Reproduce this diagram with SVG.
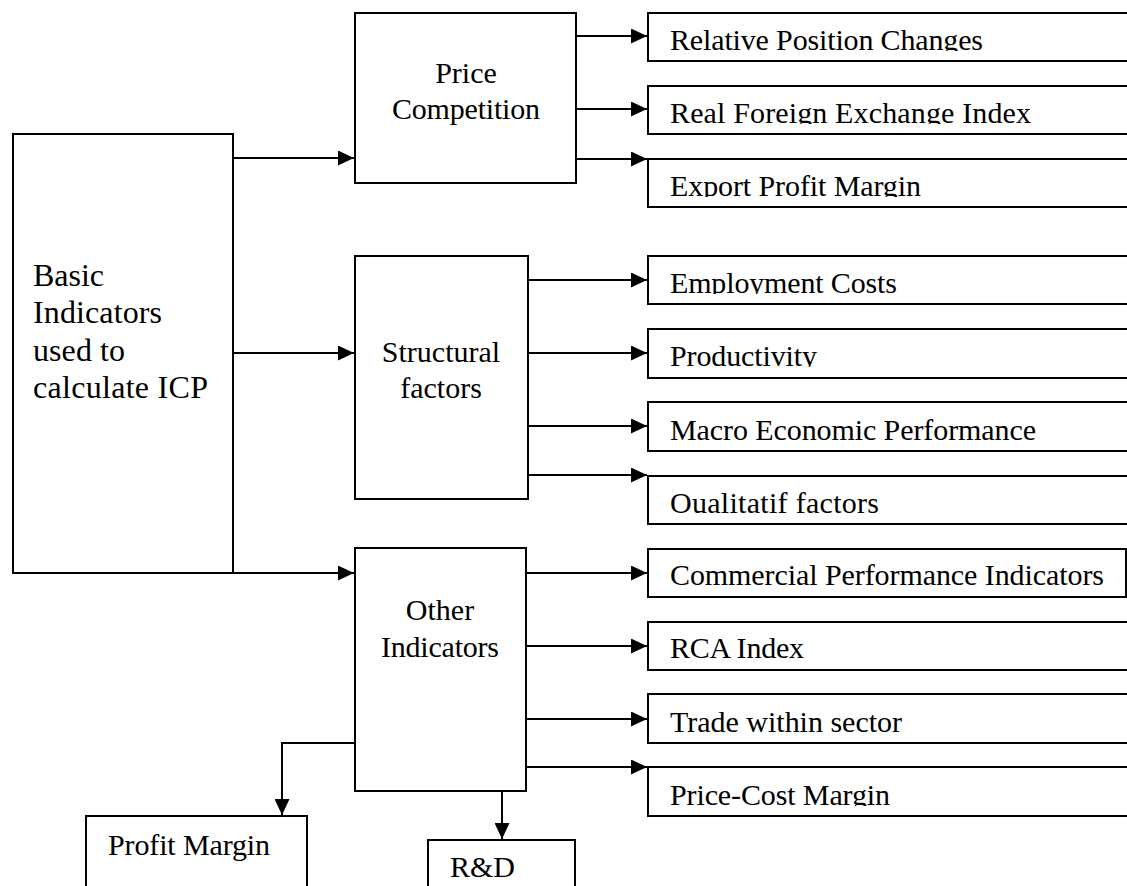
<svg xmlns="http://www.w3.org/2000/svg" width="1127" height="886" viewBox="0 0 1127 886">
<style>
.box{fill:#fff;stroke:#000;stroke-width:2}
.t{font-family:"Liberation Serif","Times New Roman",serif;font-size:30px;fill:#000}
.b{font-size:32px}
.c{stroke:#000;stroke-width:2;fill:none}
</style>
<defs>
<marker id="ah" markerWidth="16" markerHeight="15" refX="16" refY="7.5" orient="auto" markerUnits="userSpaceOnUse">
<path d="M0,0 L16,7.5 L0,15 Z" fill="#000"/>
</marker>
<clipPath id="k1"><rect x="640" y="13" width="500" height="38"/></clipPath>
<clipPath id="k2"><rect x="640" y="86" width="500" height="38"/></clipPath>
<clipPath id="k3"><rect x="640" y="159" width="500" height="38"/></clipPath>
<clipPath id="k4"><rect x="640" y="256" width="500" height="38"/></clipPath>
<clipPath id="k5"><rect x="640" y="329" width="500" height="38"/></clipPath>
<clipPath id="k7"><rect x="640" y="476" width="500" height="38"/></clipPath>
<clipPath id="k11"><rect x="640" y="767" width="500" height="39"/></clipPath>
</defs>
<rect width="1127" height="886" fill="#fff"/>

<g id="connectors">
<line class="c" x1="233" y1="158" x2="354" y2="158" marker-end="url(#ah)"/>
<line class="c" x1="233" y1="353" x2="354" y2="353" marker-end="url(#ah)"/>
<line class="c" x1="233" y1="573" x2="354" y2="573" marker-end="url(#ah)"/>
<line class="c" x1="576" y1="36" x2="647" y2="36" marker-end="url(#ah)"/>
<line class="c" x1="576" y1="109" x2="647" y2="109" marker-end="url(#ah)"/>
<line class="c" x1="576" y1="159" x2="647" y2="159" marker-end="url(#ah)"/>
<line class="c" x1="528" y1="280" x2="647" y2="280" marker-end="url(#ah)"/>
<line class="c" x1="528" y1="353" x2="647" y2="353" marker-end="url(#ah)"/>
<line class="c" x1="528" y1="426" x2="647" y2="426" marker-end="url(#ah)"/>
<line class="c" x1="528" y1="475" x2="647" y2="475" marker-end="url(#ah)"/>
<line class="c" x1="526" y1="573" x2="647" y2="573" marker-end="url(#ah)"/>
<line class="c" x1="526" y1="646" x2="647" y2="646" marker-end="url(#ah)"/>
<line class="c" x1="526" y1="719" x2="647" y2="719" marker-end="url(#ah)"/>
<line class="c" x1="526" y1="767" x2="647" y2="767" marker-end="url(#ah)"/>
<line class="c" x1="502" y1="791" x2="502" y2="839" marker-end="url(#ah)"/>
<polyline class="c" points="355,743 282,743 282,815" marker-end="url(#ah)"/>
</g>

<g id="basic">
<rect class="box" x="13" y="134" width="220" height="439"/>
<text class="t b" x="33" y="286" textLength="71">Basic</text>
<text class="t b" x="33" y="323" textLength="129">Indicators</text>
<text class="t b" x="33" y="361" textLength="92">used to</text>
<text class="t b" x="33" y="398" textLength="175">calculate ICP</text>
</g>

<g id="price-competition">
<rect class="box" x="355" y="13" width="221" height="170"/>
<text class="t" x="466" y="83" text-anchor="middle">Price</text>
<text class="t" x="466" y="119" text-anchor="middle" textLength="148">Competition</text>
</g>

<g id="structural">
<rect class="box" x="355" y="256" width="173" height="243"/>
<text class="t" x="441" y="362" text-anchor="middle">Structural</text>
<text class="t" x="441" y="398" text-anchor="middle">factors</text>
</g>

<g id="other">
<rect class="box" x="355" y="548" width="171" height="243"/>
<text class="t" x="440" y="620" text-anchor="middle">Other</text>
<text class="t" x="440" y="657" text-anchor="middle" textLength="118">Indicators</text>
</g>

<g id="relative">
<rect class="box" x="648" y="13" width="490" height="48"/>
<text class="t" x="670" y="50" textLength="313" clip-path="url(#k1)">Relative Position Changes</text>
</g>
<g id="real-fx">
<rect class="box" x="648" y="86" width="490" height="48"/>
<text class="t" x="670" y="123" textLength="361" clip-path="url(#k2)">Real Foreign Exchange  Index</text>
</g>
<g id="export">
<rect class="box" x="648" y="159" width="490" height="48"/>
<text class="t" x="670" y="196" textLength="251" clip-path="url(#k3)">Export Profit Margin</text>
</g>
<g id="employment">
<rect class="box" x="648" y="256" width="490" height="48"/>
<text class="t" x="670" y="293" textLength="227" clip-path="url(#k4)">Employment Costs</text>
</g>
<g id="productivity">
<rect class="box" x="648" y="329" width="490" height="49"/>
<text class="t" x="670" y="366" textLength="147" clip-path="url(#k5)">Productivity</text>
</g>
<g id="macro">
<rect class="box" x="648" y="402" width="490" height="49"/>
<text class="t" x="670" y="440" textLength="366">Macro Economic Performance</text>
</g>
<g id="qualitatif">
<rect class="box" x="648" y="476" width="490" height="48"/>
<text class="t" x="670" y="513" textLength="209" clip-path="url(#k7)">Oualitatif  factors</text>
</g>
<g id="commercial">
<rect class="box" x="648" y="549" width="478" height="48"/>
<text class="t" x="670" y="585" textLength="434">Commercial Performance Indicators</text>
</g>
<g id="rca">
<rect class="box" x="648" y="622" width="490" height="48"/>
<text class="t" x="670" y="658" textLength="134">RCA Index</text>
</g>
<g id="trade">
<rect class="box" x="648" y="694" width="490" height="49"/>
<text class="t" x="670" y="732" textLength="232">Trade within sector</text>
</g>
<g id="price-cost">
<rect class="box" x="648" y="767" width="490" height="49"/>
<text class="t" x="670" y="805" textLength="220" clip-path="url(#k11)">Price-Cost Margin</text>
</g>

<g id="profit-margin">
<rect class="box" x="86" y="816" width="221" height="90"/>
<text class="t" x="108" y="855" textLength="162">Profit Margin</text>
</g>
<g id="rd">
<rect class="box" x="428" y="840" width="147" height="70"/>
<text class="t" x="450" y="877">R&amp;D</text>
</g>
</svg>
